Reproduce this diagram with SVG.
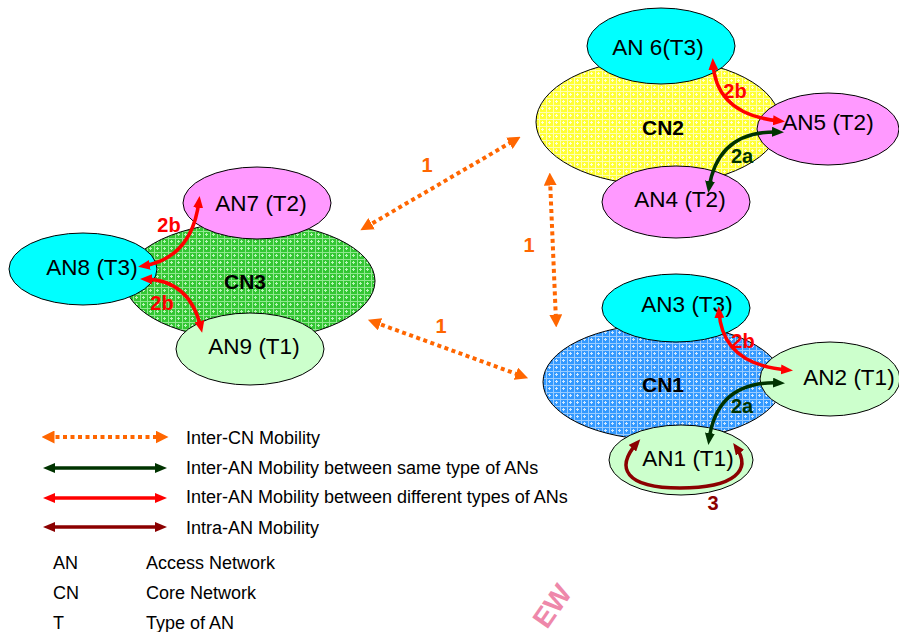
<svg xmlns="http://www.w3.org/2000/svg" width="899" height="632" viewBox="0 0 899 632">
  <style>
    .ell { stroke: #000; stroke-width: 1; }
    .cyan { fill: #00FFFF; }
    .pink { fill: #FF99FF; }
    .lgreen { fill: #CCFFCC; }
    .an { font-family: "Liberation Sans", Arial, sans-serif; font-size: 22.5px; fill: #000; text-anchor: middle; }
    .cn { font-family: "Liberation Sans", Arial, sans-serif; font-size: 21px; font-weight: bold; fill: #000; text-anchor: middle; }
    .num { font-family: "Liberation Sans", Arial, sans-serif; font-size: 20px; font-weight: bold; text-anchor: middle; }
    .leg { font-family: "Liberation Sans", Arial, sans-serif; font-size: 18px; fill: #000; }
    .c-or { fill: none; stroke: #FF6600; stroke-width: 4; stroke-dasharray: 4 3.5; }
    .c-gr { fill: none; stroke: #003300; stroke-width: 3.5; }
    .c-rd { fill: none; stroke: #FF0000; stroke-width: 3.5; }
    .c-dr { fill: none; stroke: #8B0000; stroke-width: 3.5; }
  </style>
  <defs>
    <pattern id="hatchGreen" width="7" height="7" patternUnits="userSpaceOnUse">
      <rect width="7" height="7" fill="#33C633"/>
      <rect x="0" y="0" width="7" height="1" fill="#8FE88F"/>
      <rect x="0" y="0" width="1" height="7" fill="#8FE88F"/>
      <rect x="3" y="2" width="1" height="3" fill="#B8F5B8"/>
      <rect x="2" y="3" width="3" height="1" fill="#B8F5B8"/>
    </pattern>
    <pattern id="hatchYellow" width="7" height="7" patternUnits="userSpaceOnUse">
      <rect width="7" height="7" fill="#FFFF33"/>
      <rect x="0" y="0" width="7" height="1" fill="#FFFFB0"/>
      <rect x="0" y="0" width="1" height="7" fill="#FFFFB0"/>
      <rect x="3" y="2" width="1" height="3" fill="#FFFFD8"/>
      <rect x="2" y="3" width="3" height="1" fill="#FFFFD8"/>
    </pattern>
    <pattern id="hatchBlue" width="7" height="7" patternUnits="userSpaceOnUse">
      <rect width="7" height="7" fill="#3399FF"/>
      <rect x="0" y="0" width="7" height="1" fill="#99CCFF"/>
      <rect x="0" y="0" width="1" height="7" fill="#99CCFF"/>
      <rect x="3" y="2" width="1" height="3" fill="#D0E8FF"/>
      <rect x="2" y="3" width="3" height="1" fill="#D0E8FF"/>
    </pattern>
    <marker id="hOr" viewBox="0 0 12 12" refX="6" refY="6" markerWidth="13" markerHeight="13" markerUnits="userSpaceOnUse" orient="auto-start-reverse">
      <path d="M0,0 L12,6 L0,12 z" fill="#FF6600"/>
    </marker>
    <marker id="hGr" viewBox="0 0 12 10" refX="7" refY="5" markerWidth="12" markerHeight="10" markerUnits="userSpaceOnUse" orient="auto-start-reverse">
      <path d="M0,0 L12,5 L0,10 z" fill="#003300"/>
    </marker>
    <marker id="hRd" viewBox="0 0 12 10" refX="7" refY="5" markerWidth="12" markerHeight="10" markerUnits="userSpaceOnUse" orient="auto-start-reverse">
      <path d="M0,0 L12,5 L0,10 z" fill="#FF0000"/>
    </marker>
    <marker id="hDr" viewBox="0 0 12 10" refX="7" refY="5" markerWidth="12" markerHeight="10" markerUnits="userSpaceOnUse" orient="auto-start-reverse">
      <path d="M0,0 L12,5 L0,10 z" fill="#8B0000"/>
    </marker>
  </defs>

  <rect width="899" height="632" fill="#FFFFFF"/>

  <!-- core networks -->
  <g id="CN3">
    <ellipse class="ell" cx="250" cy="281" rx="125" ry="59" fill="url(#hatchGreen)"/>
    <text class="cn" x="245" y="289">CN3</text>
  </g>
  <g id="CN2">
    <ellipse class="ell" cx="658" cy="122" rx="122" ry="63" fill="url(#hatchYellow)"/>
    <text class="cn" x="663" y="135">CN2</text>
  </g>
  <g id="CN1">
    <ellipse class="ell" cx="663" cy="382" rx="120" ry="58" fill="url(#hatchBlue)"/>
    <text class="cn" x="663" y="392">CN1</text>
  </g>

  <!-- access networks around CN2 -->
  <g id="AN6">
    <ellipse class="ell cyan" cx="661" cy="46" rx="74" ry="38"/>
    <text class="an" x="658" y="55">AN 6(T3)</text>
  </g>
  <g id="AN5">
    <ellipse class="ell pink" cx="828" cy="129" rx="71" ry="36"/>
    <text class="an" x="828" y="130">AN5 (T2)</text>
  </g>
  <g id="AN4">
    <ellipse class="ell pink" cx="676" cy="202" rx="74" ry="36"/>
    <text class="an" x="680" y="207">AN4 (T2)</text>
  </g>

  <!-- access networks around CN3 -->
  <g id="AN7">
    <ellipse class="ell pink" cx="257" cy="203" rx="74" ry="36"/>
    <text class="an" x="261" y="211">AN7 (T2)</text>
  </g>
  <g id="AN8">
    <ellipse class="ell cyan" cx="83" cy="269" rx="74" ry="36"/>
    <text class="an" x="92" y="275">AN8 (T3)</text>
  </g>
  <g id="AN9">
    <ellipse class="ell lgreen" cx="250" cy="349" rx="74" ry="36"/>
    <text class="an" x="254" y="354">AN9 (T1)</text>
  </g>

  <!-- access networks around CN1 -->
  <g id="AN3">
    <ellipse class="ell cyan" cx="676" cy="308" rx="74" ry="34"/>
    <text class="an" x="687" y="312">AN3 (T3)</text>
  </g>
  <g id="AN2">
    <ellipse class="ell lgreen" cx="830" cy="379" rx="70" ry="37"/>
    <text class="an" x="849" y="385">AN2 (T1)</text>
  </g>
  <g id="AN1">
    <ellipse class="ell lgreen" cx="681" cy="460" rx="72" ry="35"/>
    <text class="an" x="688" y="466">AN1 (T1)</text>
  </g>

  <!-- mobility connectors -->
  <g id="connectors">
    <!-- inter-CN -->
    <path class="c-or" d="M366,227 L515,140" marker-start="url(#hOr)" marker-end="url(#hOr)"/>
    <path class="c-or" d="M550,179 L556,321" marker-start="url(#hOr)" marker-end="url(#hOr)"/>
    <path class="c-or" d="M374,322 L522,376" marker-start="url(#hOr)" marker-end="url(#hOr)"/>
    <text class="num" fill="#FF6600" x="427" y="172">1</text>
    <text class="num" fill="#FF6600" x="529" y="252">1</text>
    <text class="num" fill="#FF6600" x="441" y="333">1</text>

    <!-- CN2 -->
    <path class="c-rd" d="M713,63 Q716,115 780,121" marker-start="url(#hRd)" marker-end="url(#hRd)"/>
    <path class="c-gr" d="M779,132 Q718,130 709,188" marker-start="url(#hGr)" marker-end="url(#hGr)"/>
    <text class="num" fill="#FF0000" x="735" y="98">2b</text>
    <text class="num" fill="#003300" x="742" y="163">2a</text>

    <!-- CN3 -->
    <path class="c-rd" d="M199,201 Q192,258 143,266" marker-start="url(#hRd)" marker-end="url(#hRd)"/>
    <path class="c-rd" d="M145,279 Q190,280 201,328" marker-start="url(#hRd)" marker-end="url(#hRd)"/>
    <text class="num" fill="#FF0000" x="169" y="232">2b</text>
    <text class="num" fill="#FF0000" x="162" y="310">2b</text>

    <!-- CN1 -->
    <path class="c-rd" d="M719,311 Q722,365 788,370" marker-start="url(#hRd)" marker-end="url(#hRd)"/>
    <path class="c-gr" d="M780,383 Q717,380 709,440" marker-start="url(#hGr)" marker-end="url(#hGr)"/>
    <path class="c-dr" d="M637,443 C615,468 625,488 680,488 C735,488 752,470 736,447" marker-start="url(#hDr)" marker-end="url(#hDr)"/>
    <text class="num" fill="#FF0000" x="743" y="348">2b</text>
    <text class="num" fill="#003300" x="742" y="413">2a</text>
    <text class="num" fill="#8B0000" x="713" y="510">3</text>
  </g>

  <!-- legend -->
  <g id="legend">
    <path class="c-or" d="M48,437 L162,437" marker-start="url(#hOr)" marker-end="url(#hOr)"/>
    <path class="c-gr" d="M48,468 L162,468" marker-start="url(#hGr)" marker-end="url(#hGr)"/>
    <path class="c-rd" d="M48,498 L162,498" marker-start="url(#hRd)" marker-end="url(#hRd)"/>
    <path class="c-dr" d="M48,527 L162,527" marker-start="url(#hDr)" marker-end="url(#hDr)"/>
    <text class="leg" x="186" y="444">Inter-CN Mobility</text>
    <text class="leg" x="186" y="474">Inter-AN Mobility between same type of ANs</text>
    <text class="leg" x="186" y="503">Inter-AN Mobility between different types of ANs</text>
    <text class="leg" x="186" y="534">Intra-AN Mobility</text>
    <text class="leg" x="53" y="569">AN</text>
    <text class="leg" x="146" y="569">Access Network</text>
    <text class="leg" x="53" y="599">CN</text>
    <text class="leg" x="146" y="599">Core Network</text>
    <text class="leg" x="53" y="629">T</text>
    <text class="leg" x="146" y="629">Type of AN</text>
  </g>

  <!-- watermark -->
  <text x="0" y="0" transform="translate(547,630) rotate(-55)" font-family="'Liberation Sans', Arial, sans-serif" font-size="28" font-weight="bold" fill="#EE88AA">EW</text>
</svg>
